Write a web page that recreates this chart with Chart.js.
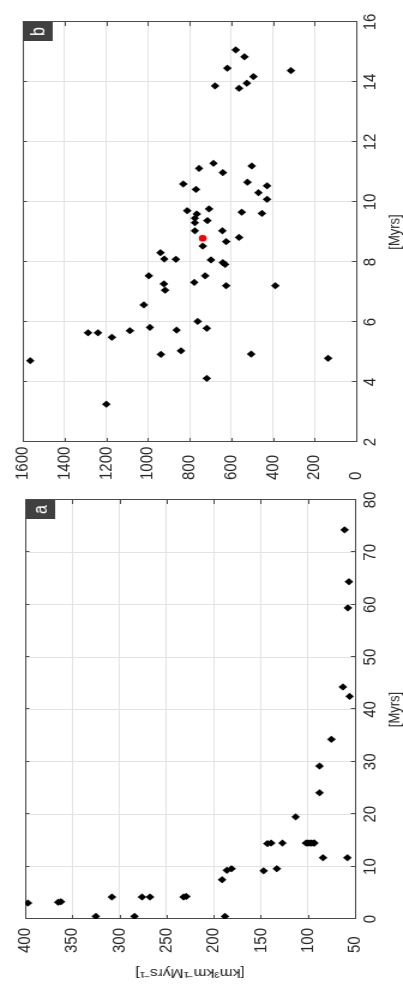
<!DOCTYPE html>
<html><head><meta charset="utf-8">
<script src="https://cdn.jsdelivr.net/npm/chart.js@4"></script>
<style>
html,body{margin:0;padding:0;background:#fff;overflow:hidden;width:403px;height:993px;}
#fig{position:absolute;left:0;top:0;width:993px;height:336px;transform-origin:0 0;transform:translate(0,993px) rotate(-90deg) scale(1,1.1994);}
#ca{position:absolute;left:0;top:0;width:510px;height:336px;}
#cb{position:absolute;left:510px;top:0;width:483px;height:336px;}
</style></head>
<body>
<div id="fig">
<canvas id="ca" width="510" height="336"></canvas>
<canvas id="cb" width="483" height="336"></canvas>
</div>
<script>
// ---- Panel a data ----
const aTime = [3.05,3.2,3.3,0.5,4.2,0.5,4.2,4.2,4.2,4.3,0.5,7.5,9.3,9.6,9.2,9.6,11.7,11.7,14.4,14.5,14.5,14.5,14.5,14.5,14.5,14.5,14.5,19.5,24.1,29.2,34.3,42.5,44.3,59.4,64.4,74.3];
const aRate = [397,365,362,325,308,284,276,267.5,232,229,188,191,186,181,147,133,84,58,143,139,127,102,100,98,96,94,93,113,87.6,87.6,75,55.7,62.8,57.5,56.5,61];
const aXTicks = [0,10,20,30,40,50,60,70,80];
const aYTicks = [50,100,150,200,250,300,350,400];

// ---- Panel b data ----
const bTime = [15.07,14.84,14.46,14.38,14.18,13.96,13.79,13.87,
  11.29,10.98,11.2,10.66,10.31,10.54,10.09,9.77,9.66,9.62,9.38,9.04,8.82,8.68,8.53,
  11.12,10.6,10.42,9.71,9.6,9.46,9.31,9.04,
  8.31,8.1,8.09,7.54,7.27,7.06,7.32,6.57,6.02,5.64,5.64,5.49,5.71,5.82,5.73,5.04,4.92,4.71,3.26,
  8.07,7.98,7.92,7.54,7.21,7.21,5.79,4.93,4.79,4.12];
const bRate = [578,536,618,313,493,525,562,677,
  685,640,501,522,469,428,428,706,549,452,714,642,562,624,736,
  754,830,769,811,765,774,774,774,
  939,921,865,995,923,917,777,1019,761,1287,1239,1172,1086,990,862,841,937,1564,1199,
  697,640,629,725,624,388,717,504,135,717];
const bHighTime = [8.79];
const bHighRate = [736];
const bXTicks = [2,4,6,8,10,12,14,16];
const bYTicks = [0,200,400,600,800,1000,1200,1400,1600];

const FONT = "'Liberation Sans', Arial, Helvetica, sans-serif";
const TXT = '#262626';

const boxPlugin = {
  id: 'matlabBox',
  beforeDatasetsDraw(chart) {
    const {ctx, chartArea: {left, right, top, bottom}, scales: {x, y}} = chart;
    ctx.save();
    ctx.strokeStyle = '#4a4a4a';
    ctx.lineWidth = 1;
    ctx.beginPath();
    x.ticks.forEach(t => {
      const px = Math.round(x.getPixelForValue(t.value)) + 0.5;
      ctx.moveTo(px, bottom); ctx.lineTo(px, bottom - 3.5);
      ctx.moveTo(px, top); ctx.lineTo(px, top + 3.5);
    });
    y.ticks.forEach(t => {
      const py = Math.round(y.getPixelForValue(t.value)) + 0.5;
      ctx.moveTo(left, py); ctx.lineTo(left + 4, py);
      ctx.moveTo(right, py); ctx.lineTo(right - 4, py);
    });
    ctx.stroke();
    ctx.strokeRect(Math.round(left) + 0.5, Math.round(top) + 0.5, Math.round(right - left), Math.round(bottom - top));
    ctx.restore();
  },
  afterDatasetsDraw(chart, args, opts) {
    const {ctx, chartArea: {right, top}} = chart;
    ctx.save();
    ctx.fillStyle = '#404040';
    const w = 19, h = 25;
    ctx.fillRect(right - w, top, w, h);
    ctx.fillStyle = '#ffffff';
    ctx.font = '16px ' + FONT;
    ctx.textAlign = 'center';
    ctx.textBaseline = 'middle';
    ctx.fillText(opts.label, right - w / 2, top + h / 2 + 1);
    ctx.restore();
  }
};

function setTicks(arr) { return s => { s.ticks = arr.map(v => ({value: v})); }; }

function makeChart(el, cfg) {
  return new Chart(el, {
    type: 'scatter',
    data: {datasets: cfg.datasets},
    options: {
      responsive: false, animation: false, devicePixelRatio: 1,
      events: [],
      layout: {padding: cfg.padding},
      plugins: {legend: {display: false}, tooltip: {enabled: false}, matlabBox: {label: cfg.label}},
      scales: {
        x: {
          type: 'linear', min: cfg.xMin, max: cfg.xMax,
          afterBuildTicks: setTicks(cfg.xTicks),
          afterFit: s => { s.height = cfg.xH; },
          grid: {color: '#e3e3e3', drawTicks: false},
          border: {display: false},
          ticks: {font: {size: 15, family: FONT}, color: TXT, padding: cfg.xPad, maxRotation: 0, autoSkip: false, callback: v => String(v)},
          title: {display: true, text: '[Myrs]', font: {size: 13, family: FONT, lineHeight: 1}, color: TXT, padding: 0}
        },
        y: {
          type: 'linear', min: cfg.yMin, max: cfg.yMax,
          afterBuildTicks: setTicks(cfg.yTicks),
          afterFit: s => { s.width = cfg.yW; },
          grid: {color: '#e3e3e3', drawTicks: false},
          border: {display: false},
          ticks: {font: {size: 15, family: FONT}, color: TXT, crossAlign: 'far', autoSkip: false, callback: v => String(v)},
          title: cfg.yTitle ? {display: true, text: cfg.yTitle, font: {size: 13, family: FONT, lineHeight: 1}, color: TXT, padding: {top: -26, bottom: 0}} : {display: false}
        }
      }
    },
    plugins: [boxPlugin]
  });
}

const diamond = {pointStyle: 'rectRot', pointRadius: 3.6, backgroundColor: '#000', borderColor: '#000', borderWidth: 0};

makeChart(document.getElementById('ca'), {
  label: 'a',
  padding: {left: 40, top: 21, right: 17, bottom: 0},
  xMin: 0, xMax: 80, xTicks: aXTicks, xH: 40, xPad: 3.5,
  yMin: 50, yMax: 400, yTicks: aYTicks, yW: 34,
  yTitle: '[km³km⁻¹Myrs⁻¹]',
  datasets: [Object.assign({data: aTime.map((t, i) => ({x: t, y: aRate[i]}))}, diamond)]
});

makeChart(document.getElementById('cb'), {
  label: 'b',
  padding: {left: 3, top: 19, right: 22, bottom: 0},
  xMin: 2, xMax: 16, xTicks: bXTicks, xH: 39, xPad: 2.5,
  yMin: 0, yMax: 1600, yTicks: bYTicks, yW: 38,
  yTitle: null,
  datasets: [
    {data: bHighTime.map((t, i) => ({x: t, y: bHighRate[i]})), pointStyle: 'circle', pointRadius: 3.3, backgroundColor: '#ff0000', borderColor: '#ff0000', borderWidth: 0},
    Object.assign({data: bTime.map((t, i) => ({x: t, y: bRate[i]}))}, diamond)
  ]
});
</script>
</body></html>
